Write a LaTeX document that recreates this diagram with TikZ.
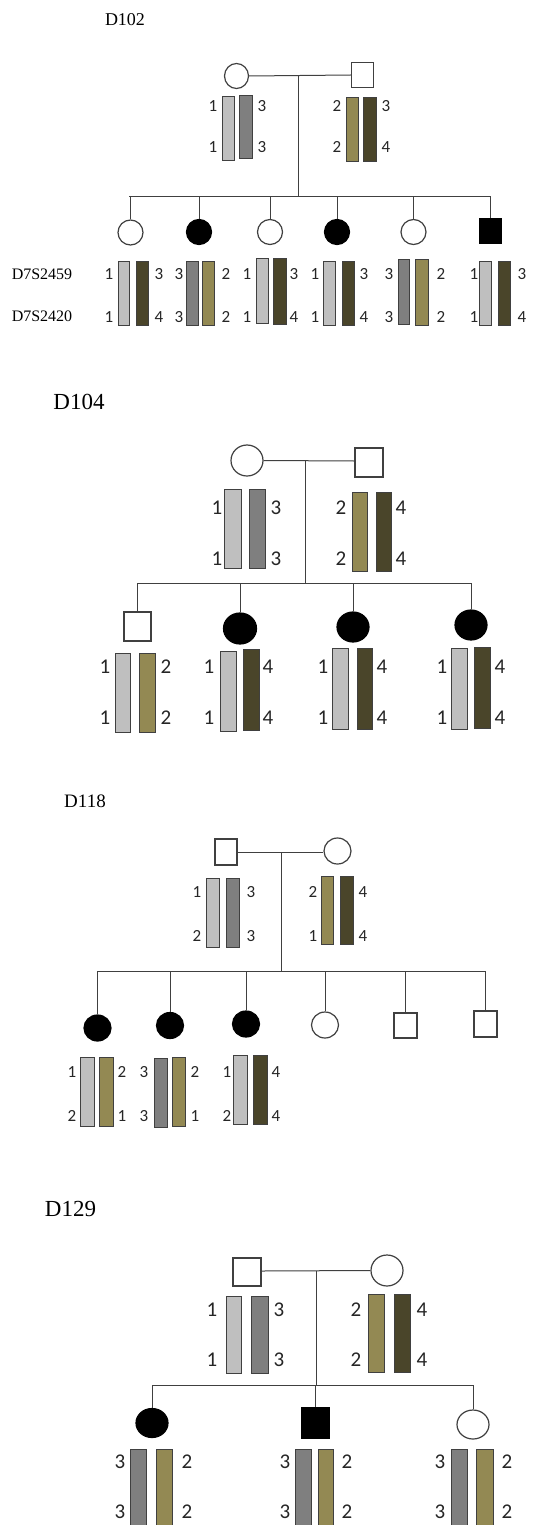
\documentclass[tikz,border=0pt]{standalone}
\usepackage{fontspec}
\setmainfont{Liberation Serif}
\newfontfamily\digfont{Carlito}
\usetikzlibrary{shapes.geometric}

\definecolor{chLight}{HTML}{BFBFBF}
\definecolor{chGray}{HTML}{7F7F7F}
\definecolor{chOlive}{HTML}{938953}
\definecolor{chDark}{HTML}{4A452A}
\definecolor{pedline}{HTML}{404040}
\definecolor{digit}{HTML}{262626}

\tikzset{
  ped/.style={draw=pedline, line width=1pt},
  fem/.style={ellipse, draw=pedline, line width=1.2pt, fill=white, inner sep=0pt},
  mal/.style={rectangle, draw=pedline, line width=1.2pt, fill=white, inner sep=0pt},
  aff/.style={fill=black, draw=black},
  chrbox/.style={draw=black!75, line width=0.9pt},
  chL/.style={chrbox, fill=chLight},
  chG/.style={chrbox, fill=chGray},
  chO/.style={chrbox, fill=chOlive},
  chD/.style={chrbox, fill=chDark},
  famtitle/.style={inner sep=0pt, text=black},
  marker/.style={inner sep=0pt, text=black, font=\fontsize{16}{16}\selectfont},
}

% chromosome bar: style, x1, y1, x2, y2
\newcommand\chrom[5]{\draw[#1] (#2,#3) rectangle (#4,#5);}
% pair of allele labels: size, x, y-upper, y-lower, upper, lower
\newcommand\locus[6]{%
  \node[inner sep=0pt, text=digit, font=\fontsize{#1}{#1}\selectfont\digfont] at (#2,#3) {#5};
  \node[inner sep=0pt, text=digit, font=\fontsize{#1}{#1}\selectfont\digfont] at (#2,#4) {#6};}

\begin{document}
\begin{tikzpicture}[x=1pt, y=-1pt]
\useasboundingbox[fill=white] (0,0) rectangle (540,1525);

% ================= D102 =================
\node[famtitle, font=\fontsize{18}{18}\selectfont] (t102) at (125,20) {D102};
\node[fem, minimum width=24, minimum height=25] (a-m) at (236.5,76) {};
\node[mal, minimum width=22, minimum height=25] (a-f) at (362.5,75) {};
\coordinate (a-mid) at (298,76);
\coordinate (a-sib) at (298,197);
\coordinate (a-sl) at (129,197);
\coordinate (a-sr) at (490.5,197);
\draw[ped] (a-m.east) -- (a-f.west);
\draw[ped] (a-mid) -- (a-sib);
\draw[ped] (a-sl) -- (a-sr);

\node[fem, minimum width=25, minimum height=25] (a-c1) at (130.5,232.5) {};
\node[fem, aff, minimum width=25, minimum height=25] (a-c2) at (199,232) {};
\node[fem, minimum width=25, minimum height=25] (a-c3) at (270,232) {};
\node[fem, aff, minimum width=25, minimum height=25] (a-c4) at (337,232) {};
\node[fem, minimum width=25, minimum height=25] (a-c5) at (413.5,232) {};
\node[mal, aff, minimum width=21, minimum height=25] (a-c6) at (490.5,231) {};
\foreach \c in {1,...,6}{\draw[ped] (a-c\c.north |- a-sl) -- (a-c\c.north);}

\chrom{chL}{222}{96}{234}{160}\chrom{chG}{239}{95}{252}{158}
\locus{17}{213}{106}{147}{1}{1}\locus{17}{262}{106}{147}{3}{3}
\chrom{chO}{346}{97}{358}{161}\chrom{chD}{363}{97}{376}{161}
\locus{17}{337}{106}{147}{2}{2}\locus{17}{386}{106}{147}{3}{4}

\node[marker] (mk1) at (42,274) {D7S2459};
\node[marker] (mk2) at (42,316) {D7S2420};

\chrom{chL}{118}{261}{129}{325}\chrom{chD}{136}{261}{148}{325}
\locus{17}{109}{274}{317}{1}{1}\locus{17}{159}{274}{317}{3}{4}
\chrom{chG}{186}{261}{198}{325}\chrom{chO}{202}{261}{214}{325}
\locus{17}{179}{274}{317}{3}{3}\locus{17}{226}{274}{317}{2}{2}
\chrom{chL}{256}{258}{268}{323}\chrom{chD}{273}{258}{286}{324}
\locus{17}{247}{274}{317}{1}{1}\locus{17}{294}{274}{317}{3}{4}
\chrom{chL}{323}{261}{335}{325}\chrom{chD}{342}{261}{354}{325}
\locus{17}{315}{274}{317}{1}{1}\locus{17}{364}{274}{317}{3}{4}
\chrom{chG}{398}{259}{409}{324}\chrom{chO}{415}{259}{428}{325}
\locus{17}{389}{274}{317}{3}{3}\locus{17}{441}{274}{317}{2}{2}
\chrom{chL}{479}{261}{491}{325}\chrom{chD}{498}{261}{510}{325}
\locus{17}{474}{274}{317}{1}{1}\locus{17}{522}{274}{317}{3}{4}

% ================= D104 =================
\node[famtitle, font=\fontsize{23}{23}\selectfont] (t104) at (79,402) {D104};
\node[fem, minimum width=32, minimum height=31] (b-m) at (247,460.5) {};
\node[mal, minimum width=28, minimum height=29] (b-f) at (369,462.5) {};
\coordinate (b-mid) at (305,461);
\coordinate (b-sib) at (305,583);
\coordinate (b-sl) at (137.5,583);
\coordinate (b-sr) at (471,583);
\draw[ped] (b-m.east) -- (b-f.west |- b-mid);
\draw[ped] (b-mid) -- (b-sib);
\draw[ped] (b-sl) -- (b-sr);

\node[mal, minimum width=27, minimum height=29] (b-c1) at (137.5,626.5) {};
\node[fem, aff, minimum width=33, minimum height=31] (b-c2) at (240,628.5) {};
\node[fem, aff, minimum width=32, minimum height=30] (b-c3) at (353,627) {};
\node[fem, aff, minimum width=32, minimum height=30] (b-c4) at (471,625) {};
\foreach \c in {1,...,4}{\draw[ped] (b-c\c.north |- b-sl) -- (b-c\c.north);}

\chrom{chL}{224}{489}{241}{568}\chrom{chG}{249}{489}{265}{568}
\locus{21}{217}{508}{559}{1}{1}\locus{21}{276}{508}{559}{3}{3}
\chrom{chO}{352}{492}{367}{571}\chrom{chD}{376}{492}{391}{571}
\locus{21}{341}{508}{559}{2}{2}\locus{21}{401}{508}{559}{4}{4}

\chrom{chL}{115}{653}{130}{732}\chrom{chO}{139}{653}{155}{732}
\locus{21}{105}{667}{718}{1}{1}\locus{21}{166}{667}{718}{2}{2}
\chrom{chL}{220}{651}{236}{731}\chrom{chD}{243}{649}{259}{730}
\locus{21}{209}{667}{718}{1}{1}\locus{21}{268}{667}{718}{4}{4}
\chrom{chL}{332}{648}{348}{729}\chrom{chD}{357}{648}{372}{729}
\locus{21}{323}{667}{718}{1}{1}\locus{21}{382}{667}{718}{4}{4}
\chrom{chL}{451}{648}{467}{729}\chrom{chD}{474}{647}{490}{728}
\locus{21}{442}{667}{718}{1}{1}\locus{21}{500}{667}{718}{4}{4}

% ================= D118 =================
\node[famtitle, font=\fontsize{19}{19}\selectfont] (t118) at (85,801) {D118};
\node[mal, minimum width=22, minimum height=26] (c-f) at (226,852) {};
\node[fem, minimum width=27, minimum height=26] (c-m) at (337.5,851) {};
\coordinate (c-mid) at (281,852);
\coordinate (c-sib) at (281,971);
\coordinate (c-sl) at (97.5,971);
\coordinate (c-sr) at (485.5,971);
\draw[ped] (c-f.east) -- (c-m.west |- c-mid);
\draw[ped] (c-mid) -- (c-sib);
\draw[ped] (c-sl) -- (c-sr);

\node[fem, aff, minimum width=27, minimum height=26] (c-c1) at (97.5,1028) {};
\node[fem, aff, minimum width=27, minimum height=26] (c-c2) at (170,1025.5) {};
\node[fem, aff, minimum width=27, minimum height=26] (c-c3) at (246,1024) {};
\node[fem, minimum width=27, minimum height=26] (c-c4) at (325,1025) {};
\node[mal, minimum width=23, minimum height=25] (c-c5) at (405.5,1025.5) {};
\node[mal, minimum width=23, minimum height=26] (c-c6) at (485.5,1024) {};
\foreach \c in {1,...,6}{\draw[ped] (c-c\c.north |- c-sl) -- (c-c\c.north);}

\chrom{chL}{206}{878}{219}{947}\chrom{chG}{226}{878}{239}{947}
\locus{17}{197}{892}{936}{1}{2}\locus{17}{251}{892}{936}{3}{3}
\chrom{chO}{321}{876}{333}{944}\chrom{chD}{340}{876}{353}{944}
\locus{17}{313}{892}{936}{2}{1}\locus{17}{363}{892}{936}{4}{4}

\chrom{chL}{80}{1057}{94}{1126}\chrom{chO}{99}{1057}{113}{1126}
\locus{17}{72}{1072}{1116}{1}{2}\locus{17}{122}{1072}{1116}{2}{1}
\chrom{chG}{154}{1058}{167}{1127}\chrom{chO}{172}{1057}{185}{1126}
\locus{17}{144}{1072}{1116}{3}{3}\locus{17}{195}{1072}{1116}{2}{1}
\chrom{chL}{233}{1055}{247}{1124}\chrom{chD}{253}{1055}{267}{1124}
\locus{17}{227}{1072}{1116}{1}{2}\locus{17}{276}{1072}{1116}{4}{4}

% ================= D129 =================
\node[famtitle, font=\fontsize{23}{23}\selectfont] (t129) at (70.5,1209) {D129};
\node[mal, minimum width=28, minimum height=28] (d-f) at (247,1272) {};
\node[fem, minimum width=32, minimum height=31] (d-m) at (387,1270.5) {};
\coordinate (d-mid) at (316,1271);
\coordinate (d-sib) at (316,1385);
\coordinate (d-sl) at (152,1385);
\coordinate (d-sr) at (473,1385);
\draw[ped] (d-f.east |- d-mid) -- (d-m.west);
\draw[ped] (d-mid) -- (d-sib);
\draw[ped] (d-sl) -- (d-sr);

\node[fem, aff, minimum width=32, minimum height=29] (d-c1) at (152,1423) {};
\node[mal, aff, minimum width=27, minimum height=30] (d-c2) at (315.5,1423) {};
\node[fem, minimum width=32, minimum height=29] (d-c3) at (473,1424.5) {};
\foreach \c in {1,...,3}{\draw[ped] (d-c\c.north |- d-sl) -- (d-c\c.north);}

\chrom{chL}{226}{1296}{241}{1373}\chrom{chG}{251}{1296}{268}{1373}
\locus{21}{212}{1310}{1360}{1}{1}\locus{21}{279}{1310}{1360}{3}{3}
\chrom{chO}{368}{1294}{384}{1372}\chrom{chD}{394}{1294}{410}{1372}
\locus{21}{356}{1310}{1360}{2}{2}\locus{21}{422}{1310}{1360}{4}{4}

\chrom{chG}{130}{1449}{146}{1532}\chrom{chO}{156}{1449}{172}{1532}
\locus{21}{120}{1462}{1512}{3}{3}\locus{21}{187}{1462}{1512}{2}{2}
\chrom{chG}{295}{1449}{311}{1532}\chrom{chO}{318}{1449}{333}{1532}
\locus{21}{285}{1462}{1512}{3}{3}\locus{21}{347}{1462}{1512}{2}{2}
\chrom{chG}{451}{1449}{467}{1532}\chrom{chO}{476}{1449}{493}{1532}
\locus{21}{440}{1462}{1512}{3}{3}\locus{21}{507}{1462}{1512}{2}{2}
\end{tikzpicture}
\end{document}
